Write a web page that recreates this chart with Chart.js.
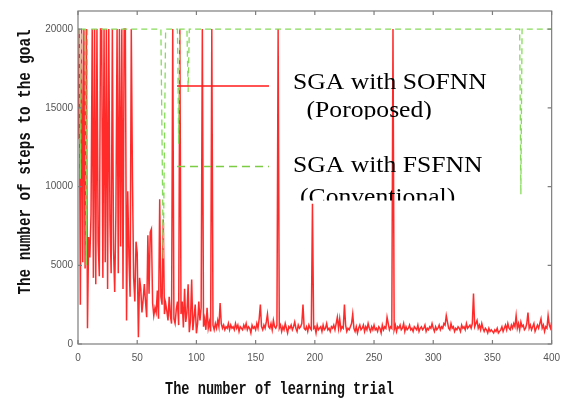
<!DOCTYPE html>
<html><head><meta charset="utf-8">
<script src="https://cdn.jsdelivr.net/npm/chart.js@4/dist/chart.umd.min.js"></script>
<style>html,body{margin:0;padding:0;background:#fff;overflow:hidden}canvas{display:block}</style>
</head><body>
<canvas id="c" width="568" height="403"></canvas>
<script>
const xTickValues = [0, 50, 100, 150, 200, 250, 300, 350, 400];
const yTickValues = [0, 5000, 10000, 15000, 20000];
const seriesNames = ['SGA with SOFNN', 'SGA with FSFNN'];
const seriesNotes = ['(Poroposed)', '(Conventional)'];
const xTitle = 'The number of learning trial';
const yTitle = 'The number of steps to the goal';

// SGA with SOFNN : steps per trial (trial 0..400)
const sofnnSteps = [
  13000, 20000, 2500, 20000, 5200, 20000, 4800, 20000, 1000, 6800,
  5500, 8200, 20000, 4200, 20000, 3800, 20000, 6500, 4300, 20000,
  20000, 4200, 20000, 5200, 20000, 3500, 20000, 7800, 4500, 20000,
  6000, 3300, 8300, 20000, 4500, 20000, 6200, 20000, 3500, 20000,
  20000, 1500, 9700, 5600, 3000, 20000, 10400, 4200, 2700, 6500,
  5800, 430, 4200, 3500, 2000, 2800, 3800, 2700, 1700, 6900,
  3200, 7100, 7300, 2600, 1800, 2300, 2000, 3400, 1600, 9200,
  3000, 2500, 7900, 1900, 2600, 2100, 1500, 3000, 1800, 1300,
  20000, 1600, 1300, 2200, 2700, 1200, 20000, 1900, 2700, 1050,
  3500, 1400, 2000, 3800, 750, 1500, 4100, 870, 1700, 2500,
  680, 1300, 2700, 1500, 2300, 20000, 1100, 1600, 900, 2300,
  1000, 1400, 800, 20000, 1200, 900, 1300, 1000, 1500, 1100,
  2600, 1300, 1000, 1200, 900, 1100, 1000, 1300, 900, 1200,
  1000, 1100, 900, 1300, 1000, 1200, 800, 1100, 1000, 900,
  1200, 1000, 1300, 900, 1100, 1000, 700, 1200, 1000, 1100,
  900, 1300, 1000, 1600, 2500, 1100, 900, 1200, 1000, 1400,
  1900, 1100, 1000, 1300, 900, 1500, 1100, 1000, 1200, 20000,
  1000, 1200, 800, 1100, 900, 1300, 1000, 700, 1100, 1000,
  1200, 900, 1100, 1400, 1000, 800, 1200, 1000, 1100, 1300,
  2500, 1000, 900, 1100, 800, 1200, 1000, 900, 8900, 1000,
  1100, 700, 1200, 900, 1000, 1100, 800, 1200, 900, 1000,
  1300, 900, 1000, 800, 1100, 1000, 1200, 900, 1300, 1700,
  1000, 1600, 900, 1100, 1000, 2500, 1200, 800, 1000, 900,
  1100, 1300, 1900, 1000, 800, 1100, 700, 1000, 1200, 900,
  1000, 1200, 800, 1100, 900, 1300, 1000, 800, 1100, 900,
  1200, 900, 1000, 800, 1100, 1000, 700, 1200, 900, 1100,
  1000, 1700, 1300, 900, 1100, 1000, 20000, 900, 1200, 800,
  1100, 1000, 1200, 900, 1000, 1300, 800, 1100, 900, 1000,
  1200, 900, 1000, 800, 1100, 1000, 900, 1200, 800, 1000,
  1100, 900, 1000, 1200, 800, 1000, 900, 1100, 1000, 1300,
  1000, 800, 1100, 900, 1000, 1200, 900, 1100, 1000, 1300,
  1200, 1800, 1400, 1000, 900, 1300, 1000, 1100, 800, 1000,
  900, 1100, 1000, 800, 1200, 1000, 1100, 900, 1300, 1000,
  1100, 1200, 1000, 1300, 3200, 1100, 1300, 1500, 1000, 1200,
  900, 1300, 1000, 800, 1000, 900, 700, 1000, 800, 900,
  800, 700, 900, 800, 1000, 700, 800, 900, 1100, 800,
  1000, 1200, 900, 1300, 1000, 900, 1200, 1000, 1300, 1100,
  1800, 1000, 1300, 900, 1400, 1100, 1200, 900, 1000, 1300,
  2000, 1000, 1200, 900, 1100, 1300, 800, 1000, 1200, 1000,
  1300, 1600, 1000, 1200, 800, 1100, 1000, 1800, 1200, 1000,
  1400
];

// SGA with FSFNN : breakpoints (trial, steps)
const fsfnnTrials = [0, 1, 2, 3, 6, 7, 8, 70, 72, 74, 84, 85, 86, 92, 93, 94, 373, 374, 375, 400];
const fsfnnSteps  = [20000, 20000, 10500, 20000, 20000, 5000, 20000, 20000, 5400, 20000, 20000, 12700, 20000, 20000, 16000, 20000, 20000, 9500, 20000, 20000];

const RED = 'rgba(255,20,20,0.9)';
const GREEN = '#86dc5a';
const FRAME = '#7d7d7d';

function stretchText(ctx, text, x, yBase, font, sx, clipBottom) {
  ctx.save();
  if (clipBottom != null) { ctx.beginPath(); ctx.rect(0, 0, ctx.canvas.width, clipBottom); ctx.clip(); }
  ctx.font = font; ctx.fillStyle = '#000'; ctx.textAlign = 'left'; ctx.textBaseline = 'alphabetic';
  ctx.translate(x, yBase); ctx.scale(sx, 1); ctx.fillText(text, 0, 0);
  ctx.restore();
}
function fitText(ctx, text, cx, cy, font, targetW, rot) {
  ctx.save();
  ctx.font = font; ctx.fillStyle = '#111';
  const w = ctx.measureText(text).width;
  ctx.translate(cx, cy); ctx.rotate(rot); ctx.scale(targetW / w, 1);
  ctx.textAlign = 'center'; ctx.textBaseline = 'alphabetic';
  ctx.fillText(text, 0, 0);
  ctx.restore();
}

const decor = {
  id: 'decor',
  afterDatasetsDraw(chart) {
    const { ctx, chartArea: a, scales: { x, y } } = chart;
    ctx.save();
    ctx.strokeStyle = FRAME; ctx.lineWidth = 1.2;
    ctx.strokeRect(a.left, a.top, a.right - a.left, a.bottom - a.top);
    ctx.beginPath();
    xTickValues.forEach(v => {
      const px = x.getPixelForValue(v);
      ctx.moveTo(px, a.bottom); ctx.lineTo(px, a.bottom - 4);
      ctx.moveTo(px, a.top); ctx.lineTo(px, a.top + 4);
    });
    yTickValues.forEach(v => {
      const py = y.getPixelForValue(v);
      ctx.moveTo(a.left, py); ctx.lineTo(a.left + 4, py);
      ctx.moveTo(a.right, py); ctx.lineTo(a.right - 4, py);
    });
    ctx.stroke();

    // legend samples
    ctx.lineWidth = 1.5;
    ctx.strokeStyle = '#ff1a1a'; ctx.setLineDash([]);
    ctx.beginPath(); ctx.moveTo(177, 86); ctx.lineTo(269, 86); ctx.stroke();
    ctx.strokeStyle = '#7ccc44'; ctx.setLineDash([8, 5]);
    ctx.beginPath(); ctx.moveTo(177, 166.5); ctx.lineTo(269, 166.5); ctx.stroke();
    ctx.setLineDash([]);
    const lf = '23px "Liberation Serif", "Times New Roman", serif';
    stretchText(ctx, seriesNames[0], 293, 88.5, lf, 1.115);
    stretchText(ctx, seriesNotes[0], 306.5, 117, lf, 1.115, 119.5);
    stretchText(ctx, seriesNames[1], 293, 172, lf, 1.115);
    stretchText(ctx, seriesNotes[1], 300, 203.5, lf, 1.115, 200.5);

    // axis titles
    const tf = 'bold 18px "Liberation Mono", "Courier New", monospace';
    fitText(ctx, xTitle, 279.5, 394, tf, 229, 0);
    fitText(ctx, yTitle, 30, 162, tf, 265, -Math.PI / 2);
    ctx.restore();
  }
};

const tickFont = { family: '"Liberation Sans", Arial, sans-serif', size: 10 };

new Chart(document.getElementById('c'), {
  type: 'line',
  data: {
    datasets: [
      {
        label: seriesNames[0],
        data: sofnnSteps.map((v, i) => ({ x: i, y: v })),
        borderColor: RED, borderWidth: 1.5, pointRadius: 0, tension: 0, order: 1
      },
      {
        label: seriesNames[1],
        data: fsfnnTrials.map((t, i) => ({ x: t, y: fsfnnSteps[i] })),
        borderColor: GREEN, borderWidth: 1.3, borderDash: [6, 4], pointRadius: 0, tension: 0, order: 0
      }
    ]
  },
  options: {
    responsive: false, animation: false, devicePixelRatio: 1,
    layout: { padding: { top: 4, right: 13, bottom: 0, left: 0 } },
    plugins: { legend: { display: false }, tooltip: { enabled: false }, title: { display: false } },
    scales: {
      x: {
        type: 'linear', min: 0, max: 400,
        grid: { display: false, drawTicks: false }, border: { display: false },
        ticks: { padding: 8, color: '#555', font: tickFont, maxRotation: 0, autoSkip: false, callback: v => String(v) },
        afterBuildTicks: s => { s.ticks = xTickValues.map(v => ({ value: v })); },
        afterFit: s => { s.height = 59; }
      },
      y: {
        type: 'linear', min: 0, max: 21150,
        grid: { display: false, drawTicks: false }, border: { display: false },
        ticks: { padding: 5, color: '#555', font: tickFont, autoSkip: false, callback: v => String(v) },
        afterBuildTicks: s => { s.ticks = yTickValues.map(v => ({ value: v })); },
        afterFit: s => { s.width = 78; }
      }
    }
  },
  plugins: [decor]
});
</script>
</body></html>
